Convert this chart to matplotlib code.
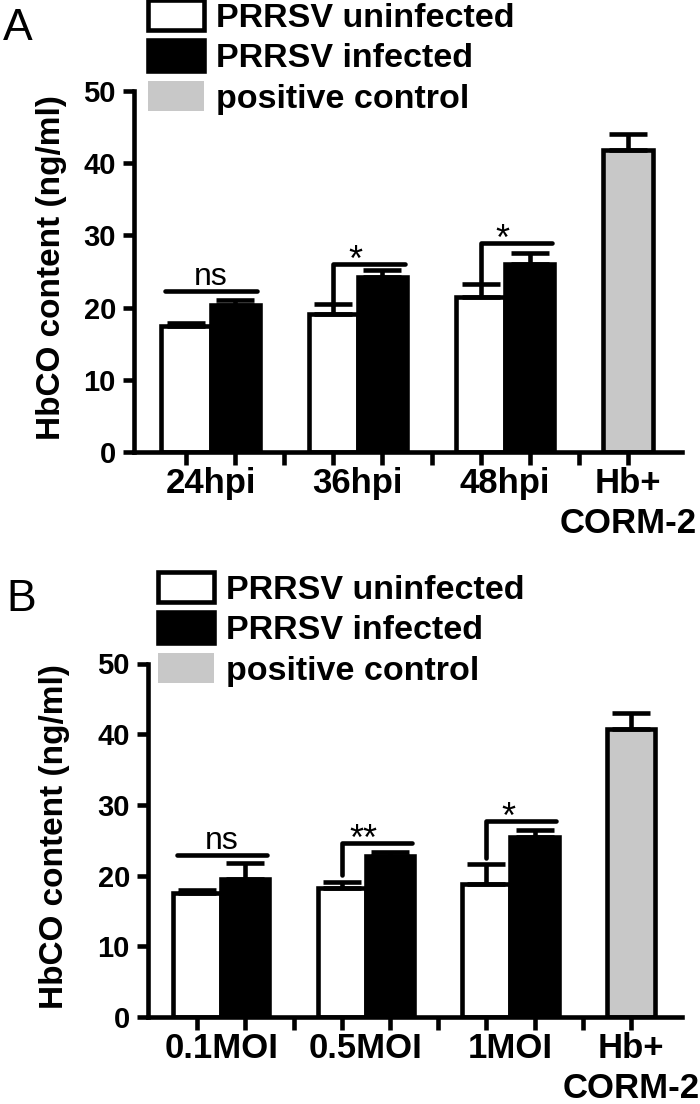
import matplotlib
matplotlib.use('Agg')
import matplotlib.pyplot as plt
import matplotlib.patches as mpatches
import numpy as np

plt.rcParams['font.family'] = ['Liberation Sans', 'DejaVu Sans']

# ---- data ----
groups_a = ['24hpi', '36hpi', '48hpi']
groups_b = ['0.1MOI', '0.5MOI', '1MOI']
control_label = 'Hb+\nCORM-2'
series_labels = ['PRRSV uninfected', 'PRRSV infected', 'positive control']

uninf_a = [17.4, 19.1, 21.4]
uninf_a_err = [0.4, 1.4, 1.8]
inf_a = [20.4, 24.3, 26.1]
inf_a_err = [0.6, 0.9, 1.4]
ctrl_a = 41.8
ctrl_a_err = 2.2

uninf_b = [17.5, 18.2, 18.8]
uninf_b_err = [0.5, 0.9, 2.8]
inf_b = [19.5, 22.8, 25.5]
inf_b_err = [2.3, 0.6, 0.9]
ctrl_b = 40.7
ctrl_b_err = 2.3

# significance marks: text, bracket height, where the left leg stops (None = plain line)
sig_a = [('ns', 22.3, None), ('*', 26.1, 20.3), ('*', 28.9, 23.5)]
sig_b = [('ns', 22.9, None), ('**', 24.6, 20.1), ('*', 27.7, 22.5)]

LW = 3.3
GRAY = '#c8c8c8'


def draw_panel(ax, groups, uninf, uninf_err, inf, inf_err, ctrl, ctrl_err, sig, xlim):
    pos = np.arange(len(groups)) * 3
    ctrl_pos = len(groups) * 3
    ekw = dict(ecolor='black', elinewidth=LW, capsize=14, capthick=LW)
    ax.bar(pos, uninf, width=1, color='white', edgecolor='black', linewidth=LW,
           yerr=[np.zeros(len(uninf)), uninf_err], error_kw=ekw)
    ax.bar(pos + 1, inf, width=1, color='black', edgecolor='black', linewidth=LW,
           yerr=[np.zeros(len(inf)), inf_err], error_kw=ekw)
    ax.bar([ctrl_pos], [ctrl], width=1, color=GRAY, edgecolor='black', linewidth=LW,
           yerr=[[0], [ctrl_err]], error_kw=ekw)

    for g, (txt, h, drop) in zip(pos, sig):
        if drop is None:
            ax.plot([g - 0.42, g + 1.45], [h, h], color='black', lw=LW,
                    solid_capstyle='round')
            ax.annotate(txt, (g + 0.5, h), xytext=(0, 4.3), textcoords='offset points',
                        ha='center', va='baseline', fontsize=23)
        else:
            ax.plot([g, g, g + 1.45], [drop, h, h], color='black', lw=LW,
                    solid_capstyle='round', solid_joinstyle='round')
            ax.annotate(txt, (g + 0.45, h), xytext=(0, -5), textcoords='offset points',
                        ha='center', va='baseline', fontsize=26)

    ax.set_xlim(*xlim)
    ax.set_ylim(0, 50)
    ax.set_yticks([0, 10, 20, 30, 40, 50])
    ax.xaxis.remove_overlapping_locs = False
    ax.set_xticks(np.arange(ctrl_pos + 1))
    ax.set_xticklabels([])
    ax.set_xticks(list(pos + 0.5) + [ctrl_pos], minor=True)
    ax.set_xticklabels(list(groups) + [control_label], minor=True,
                       fontsize=25, fontweight='bold', linespacing=1.25)
    ax.tick_params(axis='x', which='major', length=9, width=LW, direction='out')
    ax.tick_params(axis='x', which='minor', length=0, pad=11)
    ax.tick_params(axis='y', length=8, width=LW, pad=5, labelsize=21)
    for lab in ax.get_yticklabels():
        lab.set_fontweight('bold')
    for s in ['top', 'right']:
        ax.spines[s].set_visible(False)
    for s in ['left', 'bottom']:
        ax.spines[s].set_linewidth(LW)
    ax.set_ylabel('HbCO content (ng/ml)', fontsize=24, fontweight='bold')


def add_legend(fig, x, y):
    handles = [mpatches.Patch(facecolor='white', edgecolor='black', linewidth=LW),
               mpatches.Patch(facecolor='black', edgecolor='black', linewidth=LW),
               mpatches.Patch(facecolor=GRAY, edgecolor=GRAY, linewidth=0)]
    fig.legend(handles, series_labels, loc='upper left',
               bbox_to_anchor=(x / 700, 1 - y / 1104), bbox_transform=fig.transFigure,
               frameon=False, borderpad=0, borderaxespad=0,
               handlelength=1.65, handleheight=1.0, handletextpad=0.35,
               labelspacing=0.19, prop={'weight': 'bold', 'size': 24.5})


fig = plt.figure(figsize=(7, 11.04), dpi=100)

ax_a = fig.add_axes([134 / 700, 1 - 452 / 1104, 548 / 700, 361 / 1104])
draw_panel(ax_a, groups_a, uninf_a, uninf_a_err, inf_a, inf_a_err, ctrl_a, ctrl_a_err,
           sig_a, (-1.06, 10.1))
ax_a.yaxis.set_label_coords(-0.122, 0.51)

ax_b = fig.add_axes([148 / 700, 1 - 1017 / 1104, 534 / 700, 353.5 / 1104])
draw_panel(ax_b, groups_b, uninf_b, uninf_b_err, inf_b, inf_b_err, ctrl_b, ctrl_b_err,
           sig_b, (-1.02, 10.06))
ax_b.yaxis.set_label_coords(-0.146, 0.51)

add_legend(fig, 148, 0)
add_legend(fig, 158, 572)

fig.text(3 / 700, 1 - 40 / 1104, 'A', fontsize=32, va='baseline')
fig.text(6 / 700, 1 - 611 / 1104, 'B', fontsize=32, va='baseline')

plt.savefig('out.png', dpi=100)
